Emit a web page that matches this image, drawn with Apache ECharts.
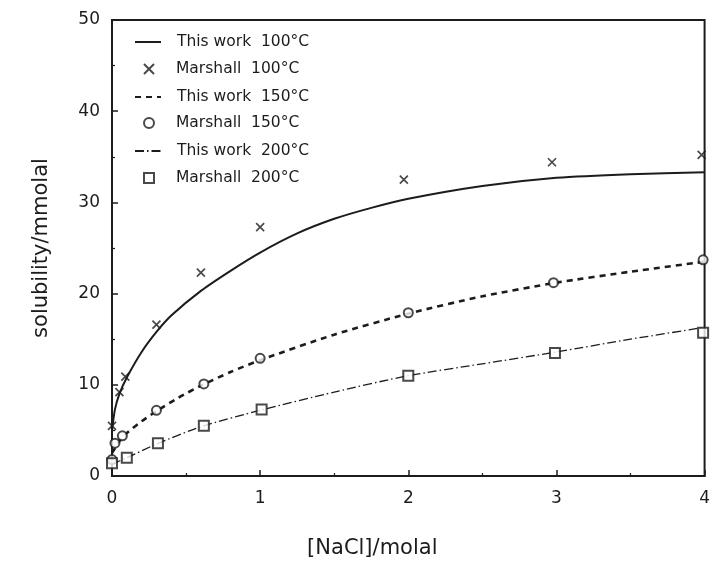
<!DOCTYPE html>
<html><head><meta charset="utf-8">
<script src="https://cdn.jsdelivr.net/npm/echarts@6/dist/echarts.min.js"></script>
<style>html,body{margin:0;padding:0;background:#fff}#c{width:713px;height:569px}</style>
</head><body><div id="c"></div><script>
// ---- data ----
const xTicks = [0, 1, 2, 3, 4];
const yTicks = [0, 10, 20, 30, 40, 50];

const work100X = [0, 0.02, 0.05, 0.1, 0.2, 0.3, 0.4, 0.6, 0.8, 1.0, 1.25, 1.5, 1.75, 2.0, 2.5, 3.0, 3.5, 4.0];
const work100Y = [5.0, 7.3, 9.0, 10.8, 13.6, 15.8, 17.6, 20.3, 22.5, 24.5, 26.6, 28.2, 29.4, 30.4, 31.8, 32.7, 33.1, 33.3];

const marshall100X = [0, 0.05, 0.09, 0.3, 0.6, 1.0, 1.97, 2.97, 3.98];
const marshall100Y = [5.5, 9.2, 10.9, 16.6, 22.3, 27.3, 32.5, 34.4, 35.2];

const work150X = [0, 0.05, 0.1, 0.2, 0.3, 0.45, 0.6, 0.8, 1.0, 1.5, 2.0, 2.5, 3.0, 3.5, 4.0];
const work150Y = [2.5, 3.8, 4.7, 6.0, 7.1, 8.6, 9.9, 11.4, 12.7, 15.5, 17.8, 19.7, 21.2, 22.4, 23.5];

const marshall150X = [0, 0.02, 0.07, 0.3, 0.62, 1.0, 2.0, 2.98, 3.99];
const marshall150Y = [1.8, 3.6, 4.4, 7.2, 10.1, 12.9, 17.9, 21.2, 23.7];

const work200X = [0, 0.1, 0.3, 0.6, 1.0, 1.5, 2.0, 2.5, 3.0, 3.5, 4.0];
const work200Y = [1.3, 2.0, 3.5, 5.4, 7.2, 9.2, 11.0, 12.3, 13.6, 15.0, 16.3];

const marshall200X = [0, 0.1, 0.31, 0.62, 1.01, 2.0, 2.99, 3.99];
const marshall200Y = [1.4, 2.0, 3.6, 5.5, 7.3, 11.0, 13.5, 15.7];

const names = ['This work  100°C', 'Marshall  100°C', 'This work  150°C', 'Marshall  150°C', 'This work  200°C', 'Marshall  200°C'];

// ---- build ----
const pair = (xs, ys) => xs.map((x, i) => [x, ys[i]]);
const ink = '#1c1c1c';
const font = 'DejaVu Sans';
const crossPath = 'path://M0,0L10,10M10,0L0,10';

const lineSeries = (name, xs, ys, style) => ({
  name, type: 'line', data: pair(xs, ys), symbol: 'none', smooth: 0.25,
  lineStyle: Object.assign({ color: ink }, style), itemStyle: { color: ink }, z: 2
});
const scatterSeries = (name, xs, ys, symbol, size, isPath) => ({
  name, type: 'scatter', data: pair(xs, ys), symbol, symbolSize: size,
  itemStyle: isPath ? { color: 'rgba(0,0,0,0)', borderColor: ink, borderWidth: 1.7 }
                    : { color: ink, borderColor: ink, borderWidth: 1.5 },
  z: 3
});

const series = [
  lineSeries(names[0], work100X, work100Y, { width: 2, type: 'solid' }),
  scatterSeries(names[1], marshall100X, marshall100Y, crossPath, 8, true),
  lineSeries(names[2], work150X, work150Y, { width: 2.6, type: [6, 5] }),
  scatterSeries(names[3], marshall150X, marshall150Y, 'emptyCircle', 9, false),
  lineSeries(names[4], work200X, work200Y, { width: 1.3, type: [9, 3, 1.5, 3] }),
  scatterSeries(names[5], marshall200X, marshall200Y, 'emptyRect', 10, false)
];

const rowCenters = [42, 69, 97, 123, 151, 178];
const legends = names.map((n, i) => {
  const isLine = i % 2 === 0;
  const lg = {
    data: [n], orient: 'vertical', padding: 0, selectedMode: false,
    left: isLine ? 134 : 143, top: rowCenters[i] - 8,
    itemWidth: isLine ? 26 : 10, itemHeight: isLine ? 14 : 10,
    textStyle: { fontFamily: font, fontSize: 15.5, color: ink, padding: [0, 0, 0, isLine ? 11 : 17] }
  };
  if (isLine) lg.itemStyle = { opacity: 0 };
  return lg;
});

const chart = echarts.init(document.getElementById('c'));
chart.setOption({
  backgroundColor: '#fff',
  animation: false,
  legend: legends,
  grid: { left: 112, right: 5, top: 20, bottom: 93, show: true, borderColor: ink, borderWidth: 2, containLabel: false },
  xAxis: {
    type: 'value', min: xTicks[0], max: xTicks[xTicks.length - 1], interval: 1,
    name: '[NaCl]/molal', nameLocation: 'middle', nameGap: 62,
    nameTextStyle: { fontFamily: font, fontSize: 21, color: ink, padding: [0, 72, 0, 0] },
    axisLine: { lineStyle: { color: ink, width: 2 } },
    axisTick: { inside: true, length: 6, lineStyle: { color: ink, width: 1.5 } },
    minorTick: { show: true, splitNumber: 2, length: 3, lineStyle: { color: ink, width: 1.2 } },
    axisLabel: { fontFamily: font, fontSize: 17, color: ink, margin: 14,
      formatter: v => xTicks.includes(v) ? String(v) : '' },
    splitLine: { show: false }
  },
  yAxis: {
    type: 'value', min: yTicks[0], max: yTicks[yTicks.length - 1], interval: 10,
    name: 'solubility/mmolal', nameLocation: 'middle', nameGap: 60,
    nameTextStyle: { fontFamily: font, fontSize: 21, color: ink },
    axisLine: { lineStyle: { color: ink, width: 2 } },
    axisTick: { inside: true, length: 6, lineStyle: { color: ink, width: 1.5 } },
    minorTick: { show: true, splitNumber: 2, length: 3, lineStyle: { color: ink, width: 1.2 } },
    axisLabel: { fontFamily: font, fontSize: 17, color: ink, margin: 12,
      formatter: v => yTicks.includes(v) ? String(v) : '' },
    splitLine: { show: false }
  },
  series
});
</script></body></html>
